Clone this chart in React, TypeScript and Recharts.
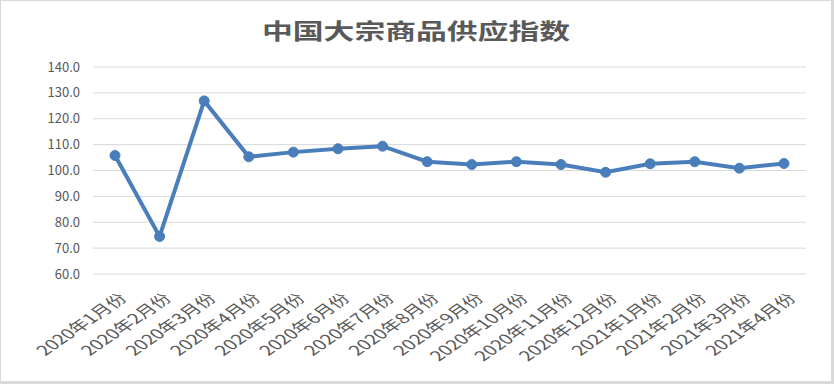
import React from 'react';
import { LineChart, Line, XAxis, YAxis, CartesianGrid } from 'recharts';

const months = [
  '2020年1月份', '2020年2月份', '2020年3月份', '2020年4月份', '2020年5月份', '2020年6月份',
  '2020年7月份', '2020年8月份', '2020年9月份', '2020年10月份', '2020年11月份', '2020年12月份',
  '2021年1月份', '2021年2月份', '2021年3月份', '2021年4月份',
];
const supplyIndex = [
  105.8, 74.5, 126.9, 105.3, 107.1, 108.4, 109.4, 103.4,
  102.3, 103.4, 102.3, 99.3, 102.6, 103.4, 100.9, 102.7,
];
const yTicks = [60, 70, 80, 90, 100, 110, 120, 130, 140];

const data = months.map((m, i) => ({ month: m, value: supplyIndex[i] }));

const FONT = '"Noto Sans CJK SC", "Noto Sans", sans-serif';
const TEXT = '#595959';
const BLUE = '#4a7ebb';

const MonthTick = (props: any) => {
  const { x, y, payload } = props;
  return (
    <text
      transform={`translate(${x + 8},${y + 14}) scale(1.45,1) rotate(-45)`}
      textAnchor="end"
      dy="0.35em"
      fill={TEXT}
      fontSize={14}
      fontFamily={FONT}
    >
      {payload.value}
    </text>
  );
};

export default function App() {
  return (
    <div
      style={{
        position: 'absolute',
        left: 0,
        top: 0,
        width: 834,
        height: 384,
        background: '#fff',
        boxSizing: 'border-box',
        borderRight: '3px solid #d9d9d9',
        borderBottom: '3px solid #d9d9d9',
        borderLeft: '1px solid #d9d9d9',
        borderTop: '1px solid #d9d9d9',
        overflow: 'hidden',
      }}
    >
      <div
        style={{
          position: 'absolute',
          left: 0,
          right: 0,
          top: 12,
          textAlign: 'center',
          fontFamily: FONT,
          fontWeight: 'bold',
          fontSize: 22,
          color: TEXT,
        }}
      >
        <span style={{ display: 'inline-block', transform: 'scaleX(1.4)' }}>中国大宗商品供应指数</span>
      </div>
      <LineChart
        width={830}
        height={380}
        data={data}
        margin={{ top: 66, right: 25, bottom: 0, left: 0 }}
      >
        <CartesianGrid vertical={false} stroke="#d9d9d9" strokeWidth={1} />
        <XAxis
          dataKey="month"
          axisLine={false}
          tickLine={false}
          interval={0}
          tick={<MonthTick />}
          height={107}
          padding={{ left: 22, right: 22 }}
        />
        <YAxis
          domain={[60, 140]}
          ticks={yTicks}
          tickFormatter={(v: number) => v.toFixed(1)}
          axisLine={false}
          tickLine={false}
          tickSize={0}
          tickMargin={13}
          width={92}
          interval={0}
          tick={{ fill: TEXT, fontSize: 13, fontFamily: FONT }}
        />
        <Line
          type="linear"
          dataKey="value"
          stroke={BLUE}
          strokeWidth={4}
          dot={{ r: 5, fill: BLUE, stroke: BLUE, strokeWidth: 1 }}
          isAnimationActive={false}
        />
      </LineChart>
    </div>
  );
}
